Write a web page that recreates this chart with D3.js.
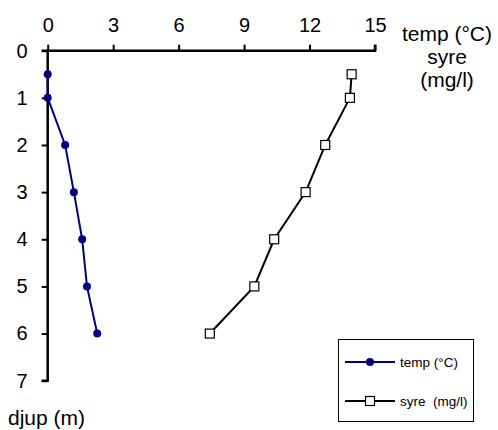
<!DOCTYPE html>
<html><head><meta charset="utf-8">
<script src="https://cdn.jsdelivr.net/npm/d3@7"></script>
<style>body{margin:0;background:#fff}svg{display:block;font-family:"Liberation Sans",Arial,sans-serif}</style>
</head><body><svg id="c" width="498" height="430"></svg>
<script>
const depths = [0.5, 1, 2, 3, 4, 5, 6];
const temp = [0, 0, 0.8, 1.2, 1.58, 1.8, 2.27];
const syre = [13.93, 13.85, 12.72, 11.82, 10.38, 9.47, 7.43];
const xTicks = [0, 3, 6, 9, 12, 15];
const yTicks = [0, 1, 2, 3, 4, 5, 6, 7];
const seriesNames = ["temp (°C)", "syre  (mg/l)"];

const svg = d3.select("#c");
const x = d3.scaleLinear().domain([0, 15]).range([47.7, 375]);
const y = d3.scaleLinear().domain([0, 7]).range([50.7, 380.7]);

const xAxis = svg.append("g").attr("transform", `translate(0,${y(0)})`)
  .call(d3.axisTop(x).tickValues(xTicks).tickFormat(d3.format("d")).tickSize(6).tickPadding(13));
const yAxis = svg.append("g").attr("transform", `translate(${x(0)},0)`)
  .call(d3.axisLeft(y).tickValues(yTicks).tickFormat(d3.format("d")).tickSize(6).tickPadding(14));
[xAxis, yAxis].forEach(a => {
  a.selectAll(".domain").attr("stroke", "#000").attr("stroke-width", 2.5);
  a.selectAll(".tick line").attr("stroke", "#000").attr("stroke-width", 2);
  a.selectAll("text").attr("font-size", 20).attr("fill", "#000").attr("font-family", "Liberation Sans, Arial, sans-serif");
});
xAxis.select(".domain").attr("d", `M${x(0)-6},0H${x(15)}V-6`);
yAxis.select(".domain").attr("d", `M-6,${y(7)}H0V${y(0)}`);

const line = d3.line();
const tPts = depths.map((d, i) => [x(temp[i]), y(d)]);
const sPts = depths.map((d, i) => [x(syre[i]), y(d)]);
svg.append("path").attr("d", line(tPts)).attr("fill", "none").attr("stroke", "#000080").attr("stroke-width", 2);
svg.selectAll(".tp").data(tPts).enter().append("circle")
  .attr("cx", d => d[0]).attr("cy", d => d[1]).attr("r", 4).attr("fill", "#000080");
svg.append("path").attr("d", line(sPts)).attr("fill", "none").attr("stroke", "#000").attr("stroke-width", 2);
svg.selectAll(".sp").data(sPts).enter().append("rect")
  .attr("x", d => d[0] - 4.5).attr("y", d => d[1] - 4.5).attr("width", 9).attr("height", 9)
  .attr("fill", "#fff").attr("stroke", "#000").attr("stroke-width", 1.2);

// axis titles
const t = svg.append("text").attr("font-size", 21).attr("text-anchor", "middle").attr("fill", "#000");
t.append("tspan").attr("x", 447).attr("y", 41).text("temp (°C)");
t.append("tspan").attr("x", 447).attr("y", 64).text("syre");
t.append("tspan").attr("x", 447).attr("y", 87).text("(mg/l)");
svg.append("text").attr("x", 8).attr("y", 425).attr("font-size", 21).attr("fill", "#000").text("djup (m)");

// legend
const lg = svg.append("g");
lg.append("rect").attr("x", 338.5).attr("y", 339.5).attr("width", 135).attr("height", 82)
  .attr("fill", "#fff").attr("stroke", "#000").attr("stroke-width", 1);
const ly = [362, 401];
lg.append("line").attr("x1", 345).attr("x2", 395).attr("y1", ly[0]).attr("y2", ly[0]).attr("stroke", "#000080").attr("stroke-width", 2);
lg.append("circle").attr("cx", 370).attr("cy", ly[0]).attr("r", 4).attr("fill", "#000080");
lg.append("line").attr("x1", 345).attr("x2", 395).attr("y1", ly[1]).attr("y2", ly[1]).attr("stroke", "#000").attr("stroke-width", 2);
lg.append("rect").attr("x", 365.5).attr("y", ly[1] - 4.5).attr("width", 9).attr("height", 9).attr("fill", "#fff").attr("stroke", "#000").attr("stroke-width", 1.2);
seriesNames.forEach((n, i) => {
  lg.append("text").attr("x", 400).attr("y", ly[i] + 5).attr("font-size", 13.5).attr("fill", "#000")
    .style("white-space", "pre").attr("xml:space", "preserve").text(n);
});
</script></body></html>
